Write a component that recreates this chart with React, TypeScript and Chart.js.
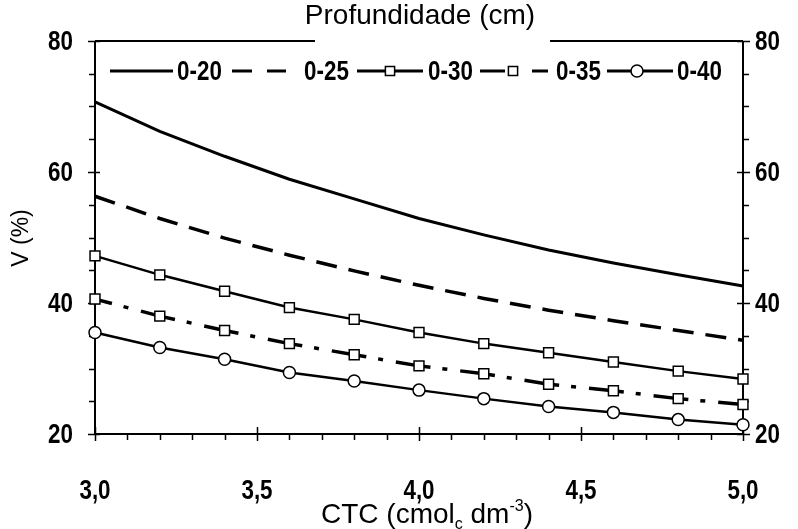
import React, { useEffect, useRef } from "react";
import { Chart, registerables } from "chart.js";

Chart.register(...registerables);

// ---- data ----
const ctc = [3.0, 3.2, 3.4, 3.6, 3.8, 4.0, 4.2, 4.4, 4.6, 4.8, 5.0];
const v0_20 = [70.7, 66.2, 62.4, 58.9, 55.9, 52.9, 50.4, 48.1, 46.1, 44.3, 42.6];
const v0_25 = [56.3, 52.9, 49.9, 47.3, 44.9, 42.7, 40.7, 38.9, 37.3, 35.8, 34.3];
const v0_30 = [47.2, 44.3, 41.8, 39.3, 37.5, 35.5, 33.8, 32.4, 31.0, 29.6, 28.4];
const v0_35 = [40.6, 38.0, 35.8, 33.8, 32.1, 30.4, 29.2, 27.6, 26.6, 25.4, 24.5];
const v0_40 = [35.5, 33.2, 31.4, 29.4, 28.1, 26.7, 25.4, 24.2, 23.3, 22.2, 21.4];
const seriesLabels = ["0-20", "0-25", "0-30", "0-35", "0-40"];

const xMin = 3.0;
const xMax = 5.0;
const xMajorStep = 0.5;
const xMinorStep = 0.1;
const yMin = 20;
const yMax = 80;
const yMajorStep = 20;
const yMinorStep = 5;

const titleText = "Profundidade (cm)";
const yTitleText = "V (%)";

const FONT = "'Liberation Sans', Arial, sans-serif";
const NARROW_FONT = `bold 28px ${FONT}`;
const NARROW_SX = 0.8;

const fmtComma = (v: number) => v.toFixed(1).replace(".", ",");

const DASH_25 = [21, 12];
const DASH_35 = [35, 12, 5, 13];

function drawMarker(ctx: CanvasRenderingContext2D, style: string, x: number, y: number, r: number) {
  ctx.save();
  ctx.fillStyle = "#fff";
  ctx.strokeStyle = "#000";
  ctx.lineWidth = 1.5;
  ctx.setLineDash([]);
  ctx.beginPath();
  if (style === "rect") {
    const s = r * Math.SQRT1_2;
    ctx.rect(x - s, y - s, 2 * s, 2 * s);
  } else {
    ctx.arc(x, y, r, 0, Math.PI * 2);
  }
  ctx.fill();
  ctx.stroke();
  ctx.restore();
}

// narrow bold text (condensed by horizontal scaling)
function narrowText(ctx: CanvasRenderingContext2D, t: string, x: number, y: number, align: CanvasTextAlign) {
  ctx.save();
  ctx.font = NARROW_FONT;
  ctx.textAlign = align;
  ctx.textBaseline = "middle";
  ctx.translate(x, y);
  ctx.scale(NARROW_SX, 1);
  ctx.fillText(t, 0, 0);
  ctx.restore();
}

const framePlugin = {
  id: "frame",
  beforeDatasetsDraw(chart: any) {
    const { ctx, chartArea: a, scales } = chart;
    const xs = scales.x;
    const ys = scales.y;
    ctx.save();
    ctx.strokeStyle = "#000";
    ctx.lineWidth = 2;
    ctx.setLineDash([]);
    ctx.beginPath();
    ctx.moveTo(a.left, a.top);
    ctx.lineTo(a.left, a.bottom);
    ctx.lineTo(a.right, a.bottom);
    ctx.lineTo(a.right, a.top);
    ctx.moveTo(a.left, a.top);
    ctx.lineTo(315, a.top);
    ctx.moveTo(550, a.top);
    ctx.lineTo(a.right, a.top);
    ctx.stroke();

    ctx.lineWidth = 1.5;
    ctx.beginPath();
    const nY = Math.round((yMax - yMin) / yMinorStep);
    for (let i = 0; i <= nY; i++) {
      const v = yMin + i * yMinorStep;
      const py = Math.round(ys.getPixelForValue(v)) + 0.5;
      const major = Math.abs(v / yMajorStep - Math.round(v / yMajorStep)) < 1e-6;
      if (major) {
        ctx.moveTo(a.left - 7, py);
        ctx.lineTo(a.left + 5, py);
        ctx.moveTo(a.right - 6, py);
        ctx.lineTo(a.right + 7, py);
      } else {
        ctx.moveTo(a.left - 6, py);
        ctx.lineTo(a.left, py);
        ctx.moveTo(a.right, py);
        ctx.lineTo(a.right + 6, py);
      }
    }
    const nX = Math.round((xMax - xMin) / xMinorStep);
    for (let i = 0; i <= nX; i++) {
      const v = xMin + i * xMinorStep;
      const px = Math.round(xs.getPixelForValue(v)) + 0.5;
      const r = v / xMajorStep;
      const major = Math.abs(r - Math.round(r)) < 1e-6;
      if (major) {
        ctx.moveTo(px, a.bottom - 7);
        ctx.lineTo(px, a.bottom + 7);
      } else {
        ctx.moveTo(px, a.bottom);
        ctx.lineTo(px, a.bottom + 6);
      }
    }
    ctx.stroke();
    ctx.restore();
  },
  afterDraw(chart: any) {
    const { ctx, chartArea: a, scales } = chart;
    ctx.save();
    ctx.fillStyle = "#000";

    // tick labels from the scales' own ticks
    for (const t of scales.y.ticks) {
      const py = scales.y.getPixelForValue(t.value);
      narrowText(ctx, String(t.value), a.left - 22, py + 1, "right");
      narrowText(ctx, String(t.value), a.right + 12, py + 1, "left");
    }
    for (const t of scales.x.ticks) {
      const px = scales.x.getPixelForValue(t.value);
      narrowText(ctx, fmtComma(t.value), px, a.bottom + 57, "center");
    }

    // title
    ctx.font = `28px ${FONT}`;
    ctx.textAlign = "center";
    ctx.textBaseline = "middle";
    ctx.fillText(titleText, 420, 16);

    // y title
    ctx.save();
    ctx.translate(22, 238);
    ctx.rotate(-Math.PI / 2);
    ctx.font = `23px ${FONT}`;
    ctx.fillText(yTitleText, 0, 0);
    ctx.restore();

    // x title
    const parts: [string, string][] = [
      ["CTC (cmol", "n"],
      ["c", "sub"],
      [" dm", "n"],
      ["-3", "sup"],
      [")", "n"],
    ];
    const big = `28px ${FONT}`;
    const small = `16px ${FONT}`;
    let total = 0;
    for (const [t, k] of parts) {
      ctx.font = k === "n" ? big : small;
      total += ctx.measureText(t).width;
    }
    let cx = 427 - total / 2;
    const baseY = 523;
    ctx.textAlign = "left";
    ctx.textBaseline = "alphabetic";
    for (const [t, k] of parts) {
      ctx.font = k === "n" ? big : small;
      const dy = k === "sub" ? 6 : k === "sup" ? -12 : 0;
      ctx.fillText(t, cx, baseY + dy);
      cx += ctx.measureText(t).width;
    }

    // legend
    const ly = 71;
    ctx.strokeStyle = "#000";
    ctx.lineWidth = 3;
    ctx.lineCap = "butt";
    const seg = (x1: number, x2: number) => {
      ctx.beginPath();
      ctx.moveTo(x1, ly);
      ctx.lineTo(x2, ly);
      ctx.stroke();
    };
    seg(110, 173);
    seg(232, 252);
    seg(267, 286);
    seg(357, 423);
    drawMarker(ctx, "rect", 390, ly, 6.5);
    seg(480, 505);
    seg(532, 548);
    drawMarker(ctx, "rect", 513, ly, 6.5);
    seg(607, 673);
    drawMarker(ctx, "circle", 637, ly, 6);

    const textX = [177, 304, 428, 556, 677];
    seriesLabels.forEach((s, i) => narrowText(ctx, s, textX[i], ly + 1, "left"));
    ctx.restore();
  },
};

export default function App() {
  const ref = useRef<HTMLCanvasElement | null>(null);
  useEffect(() => {
    if (!ref.current) return;
    const mk = (data: number[]) => data.map((v, i) => ({ x: ctc[i], y: v }));
    const hiddenTicks = (step: number) => ({ stepSize: step, autoSkip: false, display: false });
    const chart = new Chart(ref.current, {
      type: "line",
      data: {
        datasets: [
          {
            label: seriesLabels[0],
            data: mk(v0_20),
            borderColor: "#000",
            borderWidth: 3,
            pointRadius: 0,
            tension: 0,
            clip: false,
          },
          {
            label: seriesLabels[1],
            data: mk(v0_25),
            borderColor: "#000",
            borderWidth: 3.5,
            borderDash: DASH_25,
            pointRadius: 0,
            tension: 0,
            clip: false,
          },
          {
            label: seriesLabels[2],
            data: mk(v0_30),
            borderColor: "#000",
            borderWidth: 2.5,
            pointStyle: "rect",
            pointRadius: 7,
            pointBorderWidth: 1.5,
            pointBackgroundColor: "#fff",
            pointBorderColor: "#000",
            tension: 0,
            clip: false,
          },
          {
            label: seriesLabels[3],
            data: mk(v0_35),
            borderColor: "#000",
            borderWidth: 3.5,
            borderDash: DASH_35,
            borderDashOffset: 17.5,
            pointStyle: "rect",
            pointRadius: 7,
            pointBorderWidth: 1.5,
            pointBackgroundColor: "#fff",
            pointBorderColor: "#000",
            tension: 0,
            clip: false,
          },
          {
            label: seriesLabels[4],
            data: mk(v0_40),
            borderColor: "#000",
            borderWidth: 2.5,
            pointStyle: "circle",
            pointRadius: 6,
            pointBorderWidth: 1.5,
            pointBackgroundColor: "#fff",
            pointBorderColor: "#000",
            tension: 0,
            clip: false,
          },
        ],
      },
      options: {
        responsive: false,
        animation: false,
        devicePixelRatio: 1,
        layout: { padding: { top: 41, left: 0, right: 0, bottom: 0 } },
        plugins: {
          legend: { display: false },
          title: { display: false },
          tooltip: { enabled: false },
        },
        scales: {
          x: {
            type: "linear",
            position: "bottom",
            min: xMin,
            max: xMax,
            grid: { display: false, drawTicks: false },
            border: { display: false },
            ticks: hiddenTicks(xMajorStep),
            afterFit: (s: any) => {
              s.height = 95;
            },
          },
          y: {
            type: "linear",
            position: "left",
            min: yMin,
            max: yMax,
            grid: { display: false, drawTicks: false },
            border: { display: false },
            ticks: hiddenTicks(yMajorStep),
            afterFit: (s: any) => {
              s.width = 95;
            },
          },
          y2: {
            type: "linear",
            position: "right",
            min: yMin,
            max: yMax,
            grid: { display: false, drawTicks: false },
            border: { display: false },
            ticks: hiddenTicks(yMajorStep),
            afterFit: (s: any) => {
              s.width = 55;
            },
          },
        },
      },
      plugins: [framePlugin],
    } as any);
    return () => chart.destroy();
  }, []);

  return (
    <div style={{ position: "absolute", left: 0, top: 0, width: 798, height: 529, background: "#fff" }}>
      <canvas ref={ref} width={798} height={529} />
    </div>
  );
}
